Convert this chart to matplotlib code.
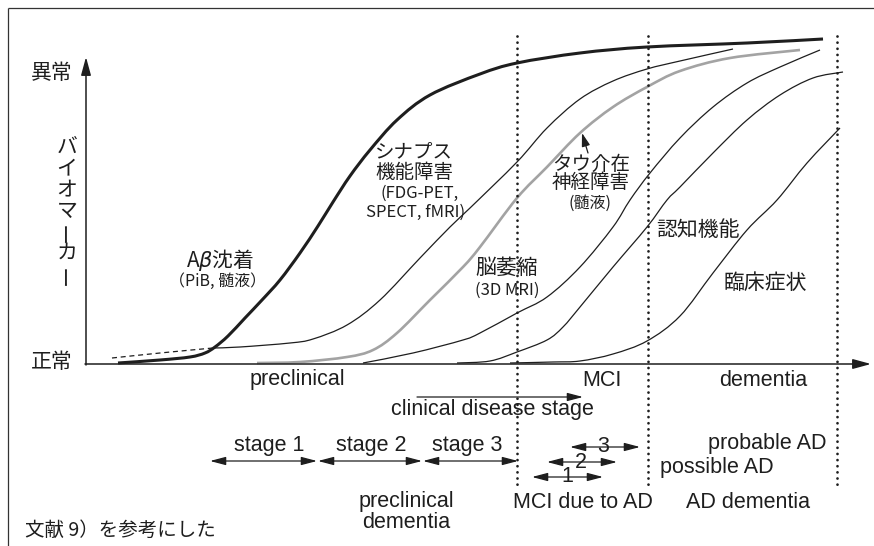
import numpy as np
import matplotlib
matplotlib.use('Agg')
import matplotlib.pyplot as plt
from matplotlib.path import Path
from matplotlib.patches import PathPatch

plt.rcParams['font.family'] = ['Noto Sans CJK JP', 'DejaVu Sans']
plt.rcParams['mathtext.fontset'] = 'dejavusans'

# ---------------- data (picture units) ----------------
abeta_x = [118, 160, 190, 205, 215, 228, 245, 262, 280, 300, 318, 333, 350, 370, 397, 430, 480, 517, 580, 647, 747, 823]
abeta_y = [363, 360, 357, 353, 347, 336, 318, 300, 280, 253, 226, 202, 176, 150, 120, 95, 74, 63, 53, 47, 43, 39]

abeta_dash_x = [112, 160, 213]
abeta_dash_y = [358, 353, 348]

synapse_x = [213, 240, 290, 313, 347, 380, 420, 450, 470, 517, 547, 580, 613, 647, 680, 733]
synapse_y = [348, 347, 343, 339, 325, 300, 258, 227, 208, 162, 128, 99, 81, 69, 61, 49]

tau_x = [257, 300, 347, 373, 397, 430, 463, 480, 517, 547, 580, 613, 647, 680, 730, 800]
tau_y = [363, 362, 357, 350, 333, 300, 267, 247, 198, 167, 133, 107, 87, 71, 58, 50]

atrophy_x = [363, 413, 463, 480, 517, 547, 580, 613, 630, 650, 680, 713, 747, 780, 820]
atrophy_y = [363, 353, 340, 333, 313, 297, 267, 227, 200, 173, 138, 107, 83, 67, 50]

cognition_x = [457, 490, 517, 547, 563, 580, 613, 647, 667, 680, 713, 747, 780, 813, 843]
cognition_y = [363, 361, 352, 340, 327, 307, 267, 227, 200, 187, 153, 120, 95, 78, 72]

clinical_x = [510, 553, 580, 613, 647, 680, 713, 747, 777, 807, 840]
clinical_y = [363, 362, 361, 354, 341, 316, 273, 230, 200, 163, 128]

stage_boundaries = [517, 648, 837]

phase_labels = ['preclinical', 'MCI', 'dementia']
stage_labels = ['stage 1', 'stage 2', 'stage 3']
stage_spans = [(210, 317), (318, 422), (423, 518)]
mci_labels = ['1', '2', '3']
mci_spans = [(532, 603), (547, 617), (570, 640)]

INK = '#1e1e1e'
GRAY = '#a3a3a3'

fig = plt.figure(figsize=(8.74, 5.46), dpi=100)
ax = fig.add_axes([0, 0, 1, 1])
ax.set_xlim(0, 874)
ax.set_ylim(546, 0)
ax.axis('off')


def smooth_path(xs, ys):
    pts = np.column_stack([xs, ys]).astype(float)
    ext = np.vstack([pts[0], pts, pts[-1]])
    verts = [pts[0]]
    codes = [Path.MOVETO]
    for i in range(len(pts) - 1):
        p0, p1, p2, p3 = ext[i], ext[i + 1], ext[i + 2], ext[i + 3]
        verts += [p1 + (p2 - p0) / 6.0, p2 - (p3 - p1) / 6.0, p2]
        codes += [Path.CURVE4] * 3
    return Path(verts, codes)


def curve(xs, ys, **kw):
    ax.add_patch(PathPatch(smooth_path(xs, ys), fill=False, capstyle='butt', **kw))


# frame
ax.plot([8, 8], [8, 546], color='#333333', lw=0.9, solid_capstyle='butt')
ax.plot([8, 874], [8, 8], color='#333333', lw=0.9, solid_capstyle='butt')

# dotted stage boundaries
for xb in stage_boundaries:
    ax.plot([xb, xb], [36, 488], color=INK, lw=2.0, linestyle=(0, (0.01, 2.2)),
            dash_capstyle='round')

# curves
curve(abeta_dash_x, abeta_dash_y, color=INK, lw=0.9, linestyle=(0, (4, 3)))
curve(synapse_x, synapse_y, color=INK, lw=0.9)
curve(tau_x, tau_y, color=GRAY, lw=1.9)
curve(atrophy_x, atrophy_y, color=INK, lw=0.9)
curve(cognition_x, cognition_y, color=INK, lw=0.9)
curve(clinical_x, clinical_y, color=INK, lw=0.9)
curve(abeta_x, abeta_y, color=INK, lw=2.2)

# axes arrows
axis_arrow = dict(arrowstyle='-|>,head_length=1.1,head_width=0.3', mutation_scale=10,
                  lw=1.1, color=INK, shrinkA=0, shrinkB=0)
ax.annotate('', xy=(86, 57), xytext=(86, 365), arrowprops=axis_arrow)
ax.annotate('', xy=(871, 364), xytext=(85, 364), arrowprops=axis_arrow)

# y-axis texts
ax.text(73, 73, '異常', fontsize=15, ha='right', va='center', color=INK)
ax.text(73, 362, '正常', fontsize=15, ha='right', va='center', color=INK)
for i, ch in enumerate('バイオマーカー'):
    ax.text(67, 147 + 21.2 * i, ch, fontsize=15, ha='center', va='center', color=INK,
            rotation=90 if ch == 'ー' else 0)

# curve labels
CJK = ['Noto Sans CJK JP', 'DejaVu Sans']
ax.text(220, 260, r'A$\beta$沈着', fontsize=15, ha='center', va='center', color=INK)
ax.text(218, 281, '（PiB, 髄液）', fontsize=11.5, ha='center', va='center', color=INK, family=CJK)
ax.text(414, 152, 'シナプス', fontsize=14, ha='center', va='center', color=INK)
ax.text(414, 172, '機能障害', fontsize=14, ha='center', va='center', color=INK)
ax.text(380, 193, '(FDG-PET,', fontsize=12, ha='left', va='center', color=INK, family=CJK)
ax.text(416, 212, 'SPECT, fMRI)', fontsize=12, ha='center', va='center', color=INK, family=CJK)
ax.text(591, 164, 'タウ介在', fontsize=14, ha='center', va='center', color=INK)
ax.text(591, 183, '神経障害', fontsize=14, ha='center', va='center', color=INK)
ax.text(590, 203, '(髄液)', fontsize=11.5, ha='center', va='center', color=INK, family=CJK)
ax.text(507, 268, '脳萎縮', fontsize=15, ha='center', va='center', color=INK)
ax.text(507, 290, '(3D MRI)', fontsize=12, ha='center', va='center', color=INK, family=CJK)
ax.text(698, 230, '認知機能', fontsize=15, ha='center', va='center', color=INK)
ax.text(765, 283, '臨床症状', fontsize=15, ha='center', va='center', color=INK)

# pointer to tau curve
ax.annotate('', xy=(582, 133), xytext=(588, 153),
            arrowprops=dict(arrowstyle='-|>,head_length=0.8,head_width=0.25', mutation_scale=10,
                            lw=0.9, color=INK, shrinkA=0, shrinkB=0))

# bottom texts
LAT = ['Liberation Sans', 'Noto Sans CJK JP']
LS = 15.5
for lab, xc in zip(phase_labels, [297, 602, 763]):
    ax.text(xc, 380, lab, fontsize=LS, ha='center', va='center', color=INK, family=LAT)

ax.annotate('', xy=(583, 397), xytext=(417, 397),
            arrowprops=dict(arrowstyle='-|>,head_length=0.95,head_width=0.25', mutation_scale=10,
                            lw=0.9, color=INK, shrinkA=0, shrinkB=0))
ax.text(492, 410, 'clinical disease stage', fontsize=LS, ha='center', va='center', color=INK, family=LAT)

dbl = dict(arrowstyle='<|-|>,head_length=0.95,head_width=0.25', mutation_scale=10,
           lw=0.9, color=INK, shrinkA=0, shrinkB=0)
for lab, (a, b), xc in zip(stage_labels, stage_spans, [269, 371, 467]):
    ax.annotate('', xy=(b, 461), xytext=(a, 461), arrowprops=dbl)
    ax.text(xc, 446, lab, fontsize=LS, ha='center', va='center', color=INK, family=LAT)

for lab, (a, b), yy, xc in zip(mci_labels, mci_spans, [477, 462, 447], [567, 581, 603]):
    ax.annotate('', xy=(b, yy), xytext=(a, yy), arrowprops=dbl)
    ax.text(xc, yy, lab, fontsize=LS, ha='center', va='center', color=INK, family=LAT)

ax.text(827, 443, 'probable AD', fontsize=LS, ha='right', va='center', color=INK, family=LAT)
ax.text(717, 468, 'possible AD', fontsize=LS, ha='center', va='center', color=INK, family=LAT)
ax.text(583, 502, 'MCI due to AD', fontsize=LS, ha='center', va='center', color=INK, family=LAT)
ax.text(748, 502, 'AD dementia', fontsize=LS, ha='center', va='center', color=INK, family=LAT)
ax.text(406, 502, 'preclinical', fontsize=LS, ha='center', va='center', color=INK, family=LAT)
ax.text(406, 522, 'dementia', fontsize=LS, ha='center', va='center', color=INK, family=LAT)

ax.text(25, 530, '文献 9）を参考にした', fontsize=14, ha='left', va='center', color=INK, family=CJK)

fig.savefig('out.png', dpi=100)
